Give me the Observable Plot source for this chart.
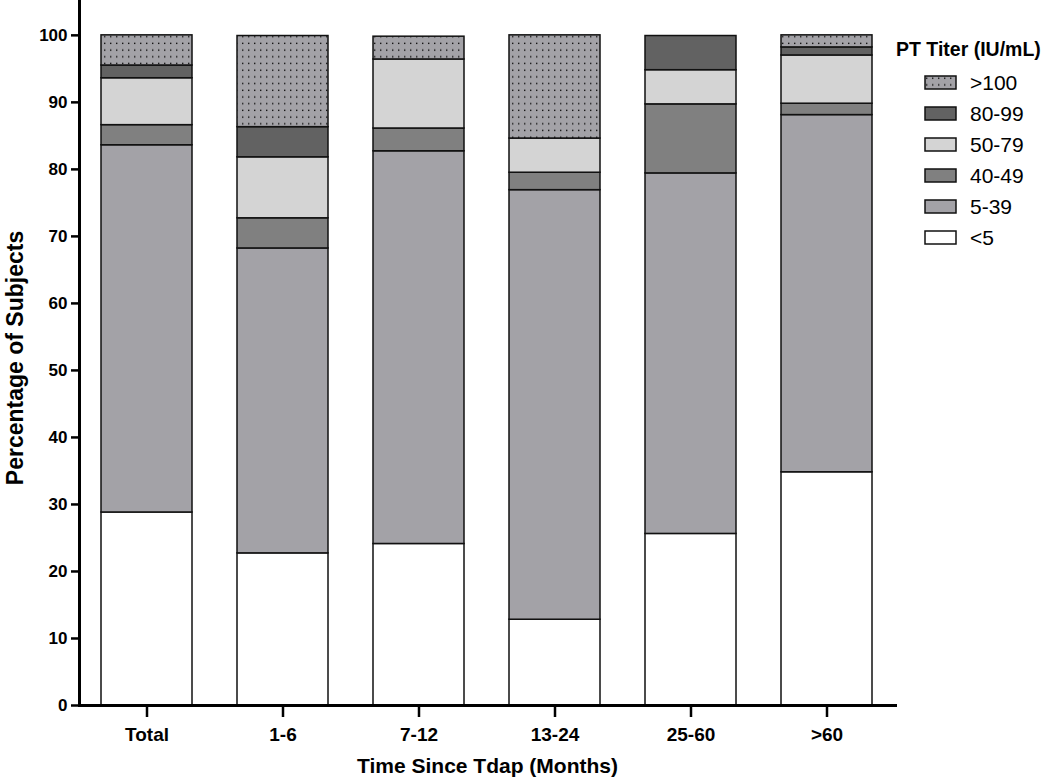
<!DOCTYPE html>
<html><head><meta charset="utf-8">
<script src="https://cdn.jsdelivr.net/npm/d3@7"></script>
<script src="https://cdn.jsdelivr.net/npm/@observablehq/plot@0.6"></script>
<style>
body{margin:0;background:#fff;}
#wrap{position:relative;width:1050px;height:777px;overflow:hidden;}
#legend{position:absolute;left:896px;top:37px;font-family:"Liberation Sans",Arial,sans-serif;color:#000;}
#legend .title{font-weight:bold;font-size:19.5px;line-height:24px;height:24px;margin-bottom:6px;white-space:nowrap;}
#legend .row{display:flex;align-items:center;height:31px;padding-left:28px;font-size:21px;}
#legend .row svg{margin-right:13px;}
</style></head><body>
<svg width="0" height="0" style="position:absolute">
  <defs>
    <pattern id="dots" patternUnits="userSpaceOnUse" width="6" height="6.7">
      <rect width="6" height="6.7" fill="#a3a2a7"></rect>
      <rect x="2" y="2.5" width="1.4" height="1.4" fill="#111"></rect>
    </pattern>
  </defs>
</svg>
<div id="wrap"><div id="chart"></div><div id="legend"></div></div>
<script>
const categories = ["Total", "1-6", "7-12", "13-24", "25-60", ">60"];
const titers = ["<5", "5-39", "40-49", "50-79", "80-99", ">100"];
const lt5    = [28.8, 22.7, 24.1, 12.8, 25.6, 34.8];
const r5_39  = [54.8, 45.5, 58.6, 64.1, 53.8, 53.3];
const r40_49 = [3.0, 4.5, 3.4, 2.6, 10.3, 1.7];
const r50_79 = [7.0, 9.1, 10.3, 5.1, 5.1, 7.2];
const r80_99 = [1.9, 4.5, 0, 0, 5.1, 1.2];
const gt100  = [4.5, 13.6, 3.4, 15.4, 0, 1.8];
const fills = ["#ffffff", "#a3a2a7", "#808080", "#d4d4d4", "#626262", "url(#dots)"];
const yTicks = [0, 10, 20, 30, 40, 50, 60, 70, 80, 90, 100];

const series = [lt5, r5_39, r40_49, r50_79, r80_99, gt100];
const data = [];
series.forEach((vals, i) => categories.forEach((c, j) => data.push({cat: c, titer: titers[i], value: vals[j]})));

const font = "'Liberation Sans',Arial,sans-serif";
const chart = Plot.plot({
  width: 1050, height: 777,
  marginLeft: 79, marginRight: 155, marginTop: 0, marginBottom: 72,
  style: {fontFamily: font, background: "white", color: "black"},
  x: {domain: categories, paddingInner: 0.33, paddingOuter: 0.165, label: null},
  y: {domain: [0, 105.2], label: null},
  color: {domain: titers, range: fills},
  marks: [
    Plot.barY(data, {x: "cat", y: "value", fill: "titer", stroke: "#111", strokeWidth: 1.5}),
    Plot.frame({anchor: "left", stroke: "#000", strokeWidth: 3}),
    Plot.frame({anchor: "bottom", stroke: "#000", strokeWidth: 3}),
    Plot.axisY({ticks: yTicks, tickSize: 8, strokeWidth: 2.5, tickPadding: 4, fontSize: 17, fontWeight: "bold", label: null}),
    Plot.axisX({tickSize: 12, strokeWidth: 2.5, tickPadding: 10, fontSize: 19, fontWeight: "bold", label: null}),
    Plot.text(["Percentage of Subjects"], {frameAnchor: "left", lineAnchor: "middle", textAnchor: "middle", rotate: -90, dx: -64, dy: 5, fontSize: 23, fontWeight: "bold", text: d => d}),
    Plot.text(["Time Since Tdap (Months)"], {frameAnchor: "bottom", lineAnchor: "middle", textAnchor: "middle", dy: 61, fontSize: 21, fontWeight: "bold", text: d => d})
  ]
});
document.getElementById("chart").append(chart);

const leg = d3.select("#legend");
leg.append("div").attr("class", "title").text("PT Titer (IU/mL)");
const order = titers.map((t, i) => ({t, f: fills[i]})).reverse();
const rows = leg.selectAll(".row").data(order).join("div").attr("class", "row");
rows.append("svg").attr("width", 33).attr("height", 15)
  .append("rect").attr("x", 1).attr("y", 1).attr("width", 31).attr("height", 13)
  .attr("fill", d => d.f).attr("stroke", "#111").attr("stroke-width", 1.5);
rows.append("span").text(d => d.t);
</script>
</body></html>
